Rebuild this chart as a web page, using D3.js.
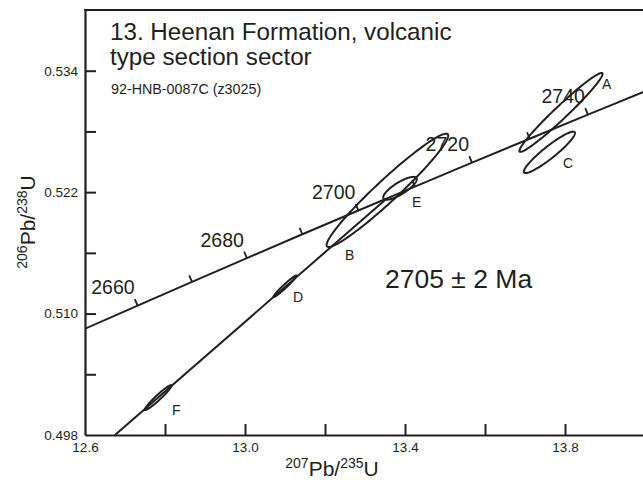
<!DOCTYPE html>
<html>
<head>
<meta charset="utf-8">
<script src="https://cdn.jsdelivr.net/npm/d3@7"></script>
<style>
  html, body { margin: 0; padding: 0; background: #fff; }
  svg { display: block; font-family: "Liberation Sans", Arial, Helvetica, sans-serif; }
</style>
</head>
<body>
<svg id="chart" width="643" height="482"></svg>
<script>
// ---------- data ----------
const xDomain = [12.6, 14.0];
const yDomain = [0.498, 0.540];
const xTickValues = [12.6, 12.8, 13.0, 13.2, 13.4, 13.6, 13.8];
const xTickLabels = [12.6, 13.0, 13.4, 13.8];
const yTickValues = [0.498, 0.504, 0.510, 0.516, 0.522, 0.528, 0.534];
const yTickLabels = [0.498, 0.510, 0.522, 0.534];

// concordia points (age Ma, 207Pb/235U, 206Pb/238U)
const concAges = [2640, 2650, 2660, 2670, 2680, 2690, 2700, 2710, 2720, 2730, 2740, 2750];
const concX = [12.4638, 12.5970, 12.7316, 12.8675, 13.0048, 13.1434, 13.2834, 13.4247, 13.5675, 13.7117, 13.8573, 14.0043];
const concY = [0.50611, 0.50845, 0.51079, 0.51314, 0.51548, 0.51784, 0.52019, 0.52255, 0.52492, 0.52728, 0.52966, 0.53203];
const concTickAges = [2660, 2670, 2680, 2690, 2700, 2710, 2720, 2730, 2740];
const concLabelAges = [2660, 2680, 2700, 2720, 2740];

// discordia endpoints
const discX = [12.675, 13.3544];
const discY = [0.498, 0.52137];

// error ellipses: label, centre x, centre y, sx, sy, rho
const fracLabels = ["A", "B", "C", "D", "E", "F"];
const fracX   = [13.790, 13.356, 13.761, 13.100, 13.3875, 12.783];
const fracY   = [0.52988, 0.52218, 0.52593, 0.51270, 0.52238, 0.50170];
const fracSX  = [0.104, 0.152, 0.064, 0.029, 0.042, 0.0333];
const fracSY  = [0.00390, 0.00560, 0.00205, 0.00107, 0.00113, 0.00123];
const fracRho = [0.975, 0.965, 0.93, 0.975, 0.80, 0.962];
// label anchor (data coords)
const fracLabX = [13.8925, 13.2500, 13.7950, 13.1200, 13.4175, 12.8175];
const fracLabY = [0.53224, 0.51527, 0.52435, 0.51113, 0.52055, 0.49997];

const titleLines = ["13. Heenan Formation, volcanic", "type section sector"];
const sampleId = "92-HNB-0087C (z3025)";
const ageText = "2705 \u00b1 2 Ma";

// ---------- layout ----------
const ink = "#231f20";
const L = 85, R = 645, T = 10, B = 435;
const svg = d3.select("#chart");
const x = d3.scaleLinear().domain(xDomain).range([L, R]);
const y = d3.scaleLinear().domain(yDomain).range([B, T]);

svg.append("defs").append("clipPath").attr("id", "plotclip")
  .append("rect").attr("x", L).attr("y", T).attr("width", R - L).attr("height", B - T);

// axes
const xAxis = d3.axisBottom(x).tickValues(xTickValues)
  .tickFormat(d => xTickLabels.some(v => Math.abs(v - d) < 1e-9) ? d3.format(".1f")(d) : "")
  .tickSizeInner(-11).tickSizeOuter(0).tickPadding(7);
const yAxis = d3.axisLeft(y).tickValues(yTickValues)
  .tickFormat(d => yTickLabels.some(v => Math.abs(v - d) < 1e-9) ? d3.format(".3f")(d) : "")
  .tickSizeInner(-11).tickSizeOuter(0).tickPadding(7);

const gx = svg.append("g").attr("transform", `translate(0,${B})`).call(xAxis);
const gy = svg.append("g").attr("transform", `translate(${L},0)`).call(yAxis);
[gx, gy].forEach(g => {
  g.select(".domain").attr("stroke", ink).attr("stroke-width", 2.2);
  g.selectAll(".tick line").attr("stroke", ink).attr("stroke-width", 2);
  g.selectAll(".tick text").attr("fill", ink).attr("font-size", 13.5)
    .attr("font-family", "'Liberation Sans', Arial, sans-serif");
});
gx.selectAll(".tick").filter(d => d === xDomain[0]).select("line").remove();
gy.selectAll(".tick").filter(d => d === yDomain[0]).select("line").remove();

// top border
svg.append("line").attr("x1", L - 1).attr("x2", R).attr("y1", T).attr("y2", T)
  .attr("stroke", ink).attr("stroke-width", 2.2);

const plot = svg.append("g").attr("clip-path", "url(#plotclip)");

// concordia
const concPts = concAges.map((a, i) => [x(concX[i]), y(concY[i])]);
plot.append("path").attr("d", d3.line().curve(d3.curveCatmullRom)(concPts))
  .attr("fill", "none").attr("stroke", ink).attr("stroke-width", 2);

// concordia ticks & labels
concTickAges.forEach(age => {
  const i = concAges.indexOf(age);
  const px = concPts[i][0], py = concPts[i][1];
  const dx = concPts[i + 1][0] - concPts[i - 1][0];
  const dy = concPts[i + 1][1] - concPts[i - 1][1];
  const len = Math.hypot(dx, dy);
  const nx = dy / len, ny = -dx / len;
  plot.append("line").attr("x1", px).attr("y1", py)
    .attr("x2", px + nx * 7).attr("y2", py + ny * 7)
    .attr("stroke", ink).attr("stroke-width", 1.8);
  if (concLabelAges.includes(age)) {
    svg.append("text").attr("x", px - 3).attr("y", py - 11.5)
      .attr("text-anchor", "end").attr("font-size", 19.5).attr("fill", ink)
      .text(age);
  }
});

// discordia
plot.append("line")
  .attr("x1", x(discX[0])).attr("y1", y(discY[0]))
  .attr("x2", x(discX[1])).attr("y2", y(discY[1]))
  .attr("stroke", ink).attr("stroke-width", 2);

// error ellipses
fracLabels.forEach((lab, i) => {
  const n = 160, pts = [];
  const k = Math.sqrt(1 - fracRho[i] * fracRho[i]);
  for (let j = 0; j <= n; j++) {
    const t = 2 * Math.PI * j / n;
    const ex = fracX[i] + fracSX[i] * Math.cos(t);
    const ey = fracY[i] + fracSY[i] * (fracRho[i] * Math.cos(t) + k * Math.sin(t));
    pts.push([x(ex), y(ey)]);
  }
  plot.append("path").attr("d", d3.line()(pts) + "Z")
    .attr("fill", "none").attr("stroke", ink).attr("stroke-width", 2);
  svg.append("text").attr("x", x(fracLabX[i])).attr("y", y(fracLabY[i]))
    .attr("font-size", 14).attr("fill", ink).text(lab);
});

// titles
svg.append("text").attr("x", 110).attr("y", 40).attr("font-size", 24.2).attr("fill", ink).text(titleLines[0]);
svg.append("text").attr("x", 110).attr("y", 65).attr("font-size", 24.2).attr("fill", ink).text(titleLines[1]);
svg.append("text").attr("x", 111).attr("y", 94).attr("font-size", 14.3).attr("fill", ink).text(sampleId);

// age result
svg.append("text").attr("x", 385).attr("y", 288).attr("font-size", 26.5).attr("fill", ink).text(ageText);

// axis titles
const xt = svg.append("text").attr("x", 332).attr("y", 476).attr("text-anchor", "middle").attr("fill", ink);
xt.append("tspan").attr("font-size", 14).attr("dy", -8).text("207");
xt.append("tspan").attr("font-size", 21).attr("dy", 8).text("Pb/");
xt.append("tspan").attr("font-size", 14).attr("dy", -8).text("235");
xt.append("tspan").attr("font-size", 21).attr("dy", 8).text("U");

const yt = svg.append("text").attr("transform", "translate(35,222) rotate(-90)")
  .attr("text-anchor", "middle").attr("fill", ink);
yt.append("tspan").attr("font-size", 14).attr("dy", -8).text("206");
yt.append("tspan").attr("font-size", 21).attr("dy", 8).text("Pb/");
yt.append("tspan").attr("font-size", 14).attr("dy", -8).text("238");
yt.append("tspan").attr("font-size", 21).attr("dy", 8).text("U");
</script>
</body>
</html>
